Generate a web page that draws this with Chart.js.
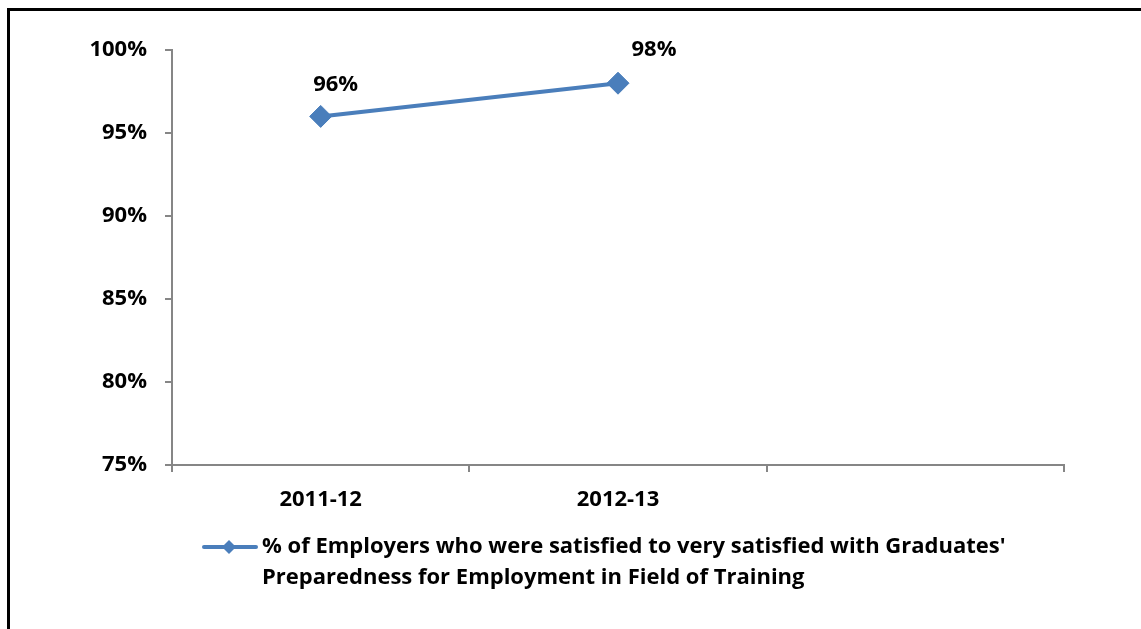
<!doctype html>
<html lang="en">

<head>
    <meta charset="utf-8">
    <title>Employer satisfaction</title>
    <script src="https://cdn.jsdelivr.net/npm/chart.js"></script>
    <style>
        html, body { margin: 0; padding: 0; background: #ffffff; }
        #wrap { position: relative; width: 1141px; height: 629px; overflow: hidden; }
    </style>
</head>

<body>
    <div id="wrap">
        <canvas id="satisfaction" width="1141" height="629"></canvas>
    </div>

    <script>
        const years = ["2011-12", "2012-13", ""];
        const satisfied = [96, 98, null];
        const seriesName = "% of Employers who were satisfied to very satisfied with Graduates' Preparedness for Employment in Field of Training";
        const legendLines = [
            "% of Employers who were satisfied to very satisfied with Graduates'",
            "Preparedness for Employment in Field of Training"
        ];

        const blue = "#4a7ebb";
        const axisGrey = "#868686";
        const family = "'Open Sans', Lato, sans-serif";
        const boldFont = "bold 22px " + family;

        // value labels sit above and to the right of each point
        const labelShift = [[15, -32], [36, -33]];

        const frame = {
            id: 'frame',
            afterDraw(chart) {
                const c = chart.ctx;
                c.save();
                c.strokeStyle = "#000000";
                c.lineWidth = 3;
                c.strokeRect(8.5, 9.5, 1200, 700);
                c.restore();
            }
        };

        const valueLabels = {
            id: 'valueLabels',
            afterDatasetsDraw(chart) {
                const c = chart.ctx;
                const meta = chart.getDatasetMeta(0);
                c.save();
                c.font = boldFont;
                c.fillStyle = "#000000";
                c.textAlign = "center";
                c.textBaseline = "middle";
                meta.data.forEach((pt, i) => {
                    const v = satisfied[i];
                    if (v == null) return;
                    c.fillText(v + "%", pt.x + labelShift[i][0], pt.y + labelShift[i][1]);
                });
                c.restore();
            }
        };

        const bottomLegend = {
            id: 'bottomLegend',
            afterDraw(chart) {
                const c = chart.ctx;
                const y = 547;
                c.save();
                c.strokeStyle = blue;
                c.lineWidth = 4;
                c.lineCap = "round";
                c.beginPath();
                c.moveTo(204, y);
                c.lineTo(256, y);
                c.stroke();
                c.fillStyle = blue;
                c.beginPath();
                c.moveTo(229, y - 7);
                c.lineTo(236, y);
                c.lineTo(229, y + 7);
                c.lineTo(222, y);
                c.closePath();
                c.fill();
                c.font = boldFont;
                c.fillStyle = "#000000";
                c.textAlign = "left";
                c.textBaseline = "middle";
                legendLines.forEach((t, i) => c.fillText(t, 262, y + i * 31));
                c.restore();
            }
        };

        new Chart(document.getElementById('satisfaction'), {
            type: 'line',
            data: {
                labels: years,
                datasets: [{
                    label: seriesName,
                    data: satisfied,
                    borderColor: blue,
                    backgroundColor: blue,
                    borderWidth: 4,
                    pointStyle: 'rectRot',
                    pointRadius: 11,
                    pointBorderWidth: 1,
                    pointBackgroundColor: blue,
                    pointBorderColor: blue,
                    tension: 0
                }]
            },
            options: {
                responsive: false,
                animation: false,
                layout: {
                    padding: { left: 20, right: 77, top: 50, bottom: 114 }
                },
                plugins: {
                    legend: { display: false },
                    tooltip: { enabled: false }
                },
                scales: {
                    x: {
                        offset: true,
                        afterFit: s => { s.height = 50; },
                        grid: {
                            offset: true,
                            drawOnChartArea: false,
                            drawTicks: true,
                            tickLength: 7,
                            color: axisGrey,
                            lineWidth: 2
                        },
                        border: { color: axisGrey, width: 2 },
                        ticks: {
                            color: "#000000",
                            padding: 15,
                            maxRotation: 0,
                            font: { family: family, size: 22, weight: 'bold' }
                        }
                    },
                    y: {
                        min: 75,
                        max: 100,
                        afterFit: s => { s.width = 152; },
                        grid: {
                            drawOnChartArea: false,
                            drawTicks: true,
                            tickLength: 7,
                            color: axisGrey,
                            lineWidth: 2
                        },
                        border: { color: axisGrey, width: 2 },
                        ticks: {
                            stepSize: 5,
                            color: "#000000",
                            padding: 18,
                            callback: v => v + "%",
                            font: { family: family, size: 22, weight: 'bold' }
                        }
                    }
                }
            },
            plugins: [frame, valueLabels, bottomLegend]
        });
    </script>
</body>

</html>
